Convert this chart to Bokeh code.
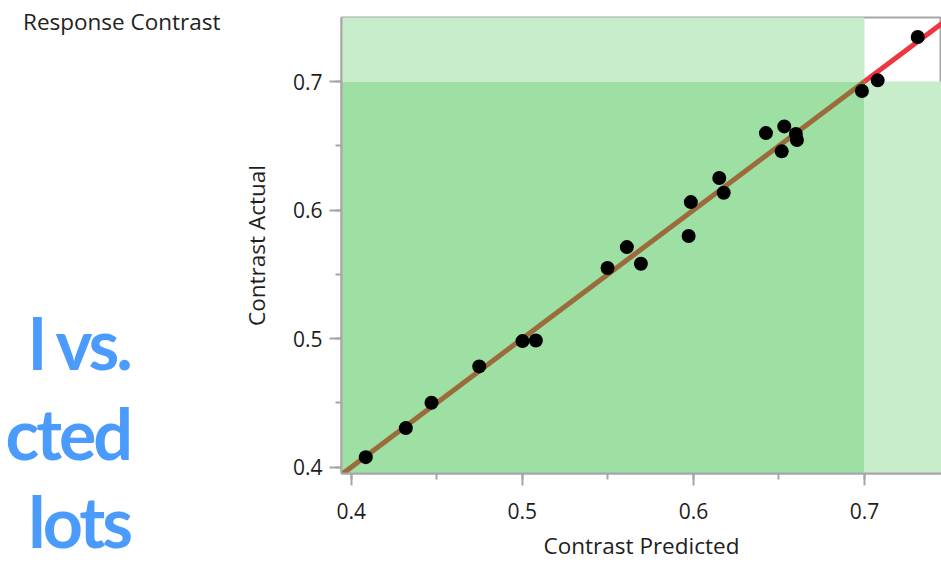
from bokeh.plotting import figure
from bokeh.models import Range1d, SingleIntervalTicker, Div
from bokeh.layouts import row
from bokeh.embed import file_html
from bokeh.resources import INLINE

# ---- data ----
predicted = [0.4085, 0.4319, 0.4469, 0.4748, 0.5001, 0.5079, 0.5498, 0.5611, 0.5693,
             0.5972, 0.5985, 0.6151, 0.6177, 0.6424, 0.6531, 0.6516, 0.6599, 0.6605,
             0.6985, 0.7077, 0.7311]
actual = [0.4078, 0.4304, 0.4501, 0.4784, 0.4981, 0.4986, 0.5549, 0.5712, 0.5583,
          0.5798, 0.6062, 0.6249, 0.6135, 0.6599, 0.6651, 0.6457, 0.6592, 0.6545,
          0.6926, 0.7009, 0.7346]
spec_limit = 0.7
fit_in_x = [0.39, 0.7]
fit_out_x = [0.7, 0.76]
x_lo, x_hi = 0.3943, 0.745
y_lo, y_hi = 0.3951, 0.7498
tick_interval = 0.1

title_text = "Response Contrast"
x_label = "Contrast Predicted"
y_label = "Contrast Actual"
side_text = ["l vs.", "cted", "lots"]

H = 573
LEFT_W = 237

# ---- left panel with texts (HTML) ----
side_tops = [308, 398, 486]
spans = [
    f'<div style="position:absolute;left:23px;top:11px;font-family:\'Open Sans\';'
    f'font-size:22.5px;line-height:22px;color:#222222;white-space:nowrap;">{title_text}</div>'
]
for t, top in zip(side_text, side_tops):
    spans.append(
        f'<div style="position:absolute;right:{LEFT_W - 130}px;top:{top}px;font-family:Lato;'
        f'font-weight:bold;font-size:70px;line-height:70px;color:#4a9bfb;letter-spacing:-3px;'
        f'white-space:nowrap;text-align:right;">{t}</div>'
    )
html = (f'<div style="position:relative;width:{LEFT_W}px;height:{H}px;overflow:hidden;'
        f'background:white;">' + "".join(spans) + '</div>')
left = Div(text=html, width=LEFT_W, height=H, margin=0)

# ---- main plot ----
p = figure(width=941 - LEFT_W, height=H, output_backend="svg", toolbar_location=None,
           x_range=Range1d(x_lo, x_hi), y_range=Range1d(y_lo, y_hi),
           min_border_left=104, min_border_right=0, min_border_top=17, min_border_bottom=100)
p.margin = 0
p.grid.visible = False
p.background_fill_color = "white"
p.border_fill_color = "white"
p.outline_line_color = "#a6a6a6"
p.outline_line_width = 2

big = 10.0
p.quad(left=[-big], right=[spec_limit], bottom=[-big], top=[spec_limit],
       fill_color="#9ee0a4", line_color=None)
p.quad(left=[-big], right=[spec_limit], bottom=[spec_limit], top=[big],
       fill_color="#c8edcb", line_color=None)
p.quad(left=[spec_limit], right=[big], bottom=[-big], top=[spec_limit],
       fill_color="#c8edcb", line_color=None)

p.line(fit_in_x, fit_in_x, line_color="#9b6b3b", line_width=5)
p.line(fit_out_x, fit_out_x, line_color="#ef3442", line_width=5)

p.scatter(predicted, actual, size=14, fill_color="black", line_color=None)

for ax in (p.xaxis[0], p.yaxis[0]):
    ax.ticker = SingleIntervalTicker(interval=tick_interval, num_minor_ticks=2)
    ax.axis_line_color = "#a6a6a6"
    ax.axis_line_width = 2
    ax.major_tick_line_color = "#a6a6a6"
    ax.major_tick_line_width = 2
    ax.minor_tick_line_color = "#a6a6a6"
    ax.minor_tick_line_width = 2
    ax.major_tick_out = 12
    ax.major_tick_in = 0
    ax.minor_tick_out = 6
    ax.minor_tick_in = 0
    ax.major_label_text_font = "Open Sans"
    ax.major_label_text_font_size = "21px"
    ax.major_label_text_color = "#1e1e1e"
    ax.axis_label_text_font = "Open Sans"
    ax.axis_label_text_font_size = "22.5px"
    ax.axis_label_text_font_style = "normal"
    ax.axis_label_text_color = "#1e1e1e"

p.xaxis.axis_label = x_label
p.yaxis.axis_label = y_label
p.xaxis.major_label_standoff = 17
p.yaxis.major_label_standoff = 7
p.xaxis.axis_label_standoff = 8
p.yaxis.axis_label_standoff = 18

layout = row(left, p)
open("out.html", "w").write(file_html(layout, INLINE))
